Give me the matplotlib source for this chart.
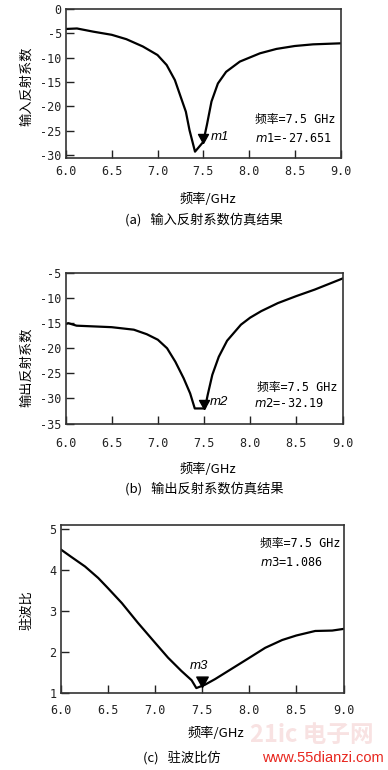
import matplotlib
matplotlib.use("Agg")
import matplotlib.pyplot as plt
from matplotlib.markers import MarkerStyle

plt.rcParams['font.family'] = ['Noto Sans CJK SC', 'DejaVu Sans']
plt.rcParams['axes.unicode_minus'] = False

# ---- data ----
freq_a = [6.0, 6.12, 6.30, 6.5, 6.66, 6.84, 7.0, 7.10, 7.19, 7.26, 7.31, 7.35, 7.41,
          7.5, 7.54, 7.59, 7.66, 7.75, 7.90, 8.12, 8.30, 8.5, 8.70, 9.0]
s11 = [-4.1, -4.0, -4.66, -5.3, -6.2, -7.7, -9.45, -11.5, -14.6, -18.4, -21.1, -24.9, -29.3,
       -27.3, -23.8, -19.0, -15.3, -12.9, -10.8, -9.1, -8.2, -7.6, -7.26, -7.05]

freq_b = [6.0, 6.03, 6.12, 6.5, 6.74, 6.88, 7.0, 7.10, 7.19, 7.28, 7.35, 7.40, 7.51,
          7.54, 7.59, 7.66, 7.75, 7.90, 8.0, 8.12, 8.30, 8.5, 8.70, 9.0]
s22 = [-15.2, -15.0, -15.5, -15.8, -16.3, -17.2, -18.3, -20.0, -22.7, -26.0, -29.0, -32.0, -32.0,
       -29.3, -25.3, -21.7, -18.5, -15.3, -13.9, -12.6, -11.0, -9.6, -8.3, -6.1]

freq_c = [6.0, 6.11, 6.26, 6.40, 6.5, 6.65, 6.82, 7.0, 7.14, 7.28, 7.39, 7.44, 7.53,
          7.64, 7.78, 7.99, 8.17, 8.35, 8.5, 8.70, 8.88, 9.0]
vswr = [4.5, 4.32, 4.08, 3.80, 3.56, 3.19, 2.71, 2.23, 1.86, 1.54, 1.31, 1.12, 1.20,
        1.34, 1.54, 1.84, 2.10, 2.29, 2.40, 2.51, 2.52, 2.56]

x_ticks = [6.0, 6.5, 7.0, 7.5, 8.0, 8.5, 9.0]
x_ticklabels = ["6.0", "6.5", "7.0", "7.5", "8.0", "8.5", "9.0"]
ya_ticks = [0, -5, -10, -15, -20, -25, -30]
yb_ticks = [-5, -10, -15, -20, -25, -30, -35]
yc_ticks = [1, 2, 3, 4, 5]

marker_freq = 7.5
m1_val = -27.651
m2_val = -32.19
m3_val = 1.086

W, H = 388, 770
fig = plt.figure(figsize=(W / 100, H / 100), dpi=100)

MIXED = ['DejaVu Sans Mono', 'Noto Sans CJK SC']

def px_axes(l, r, t, b):
    return fig.add_axes([l / W, 1 - b / H, (r - l) / W, (b - t) / H])

def ftext(x, y, s, **kw):
    fig.text(x / W, 1 - y / H, s, **kw)

tri = MarkerStyle([(0, 0), (-0.55, 1.0), (0.55, 1.0), (0, 0)])

def style(ax, yticks, ylim, xpad):
    ax.set_xlim(6.0, 9.0)
    ax.set_ylim(*ylim)
    ax.set_xticks(x_ticks)
    ax.set_xticklabels(x_ticklabels)
    ax.set_yticks(yticks)
    ax.set_yticklabels([str(v) for v in yticks])
    ax.tick_params(axis='both', direction='in', length=5.5, width=1.0, color='#222222')
    ax.tick_params(axis='x', pad=xpad)
    ax.tick_params(axis='y', pad=3)
    for lab in ax.get_xticklabels() + ax.get_yticklabels():
        lab.set_fontfamily('DejaVu Sans Mono')
        lab.set_fontsize(8.5)
        lab.set_color('#222222')
    for sp in ax.spines.values():
        sp.set_linewidth(1.2)
        sp.set_color('#333333')

# ---- (a) ----
ax1 = px_axes(66, 340.5, 9, 157.5)
ax1.plot(freq_a, s11, color='black', lw=1.6)
ax1.plot([marker_freq], [m1_val + 0.2], marker=tri, markersize=13, color='black', linestyle='none')
style(ax1, ya_ticks, (-30.5, 0), 5.5)
ax1.text(7.58, m1_val + 0.2, "m1", fontfamily='Liberation Sans', fontstyle='italic',
         fontsize=9.5, va='bottom', ha='left')
ftext(27, 86, "输入反射系数", rotation=90, ha='center', va='center', fontsize=9.5)
ftext(208, 199, "频率/GHz", ha='center', va='center', fontsize=9.5)
ftext(204, 220, "(a)   输入反射系数仿真结果", ha='center', va='center', fontsize=9.5)
ftext(255, 120, "频率=7.5 GHz", ha='left', va='center', fontsize=8.5, fontfamily=MIXED)
ftext(255, 138, r"$\mathit{m1}$=-27.651", ha='left', va='center', fontsize=8.5, fontfamily=MIXED)

# ---- (b) ----
ax2 = px_axes(65.5, 342.5, 273, 423.5)
ax2.plot(freq_b, s22, color='black', lw=1.6)
ax2.plot([marker_freq], [m2_val + 0.1], marker=tri, markersize=13, color='black', linestyle='none')
style(ax2, yb_ticks, (-35, -5), 10)
ax2.text(7.56, m2_val + 0.2, "m2", fontfamily='Liberation Sans', fontstyle='italic',
         fontsize=9.5, va='bottom', ha='left')
ftext(27, 367, "输出反射系数", rotation=90, ha='center', va='center', fontsize=9.5)
ftext(208, 469, "频率/GHz", ha='center', va='center', fontsize=9.5)
ftext(204, 489, "(b)   输出反射系数仿真结果", ha='center', va='center', fontsize=9.5)
ftext(257, 387, "频率=7.5 GHz", ha='left', va='center', fontsize=8.5, fontfamily=MIXED)
ftext(254, 404, r"$\mathit{m2}$=-32.19", ha='left', va='center', fontsize=8.5, fontfamily=MIXED)

# ---- (c) ----
ax3 = px_axes(60.5, 343.5, 525, 693)
ax3.plot(freq_c, vswr, color='black', lw=1.6)
ax3.plot([marker_freq], [m3_val + 0.07], marker=tri, markersize=15, color='black', linestyle='none')
style(ax3, yc_ticks, (1, 5.09), 8)
ax3.text(marker_freq - 0.03, 1.5, "m3", fontfamily='Liberation Sans', fontstyle='italic',
         fontsize=9.5, va='bottom', ha='center')
ftext(27, 610, "驻波比", rotation=90, ha='center', va='center', fontsize=9.5)
ftext(216, 733, "频率/GHz", ha='center', va='center', fontsize=9.5)

# watermark logo (faint)
ftext(312, 735, "21ic 电子网", ha='center', va='center', fontsize=17, fontweight='bold',
      color='#f8e2e2')
ftext(182, 758, "(c)   驻波比仿", ha='center', va='center', fontsize=9.5)
ftext(260, 544, "频率=7.5 GHz", ha='left', va='center', fontsize=8.5, fontfamily=MIXED)
ftext(260, 562, r"$\mathit{m3}$=1.086", ha='left', va='center', fontsize=8.5, fontfamily=MIXED)
ftext(384, 758, "www.55dianzi.com", ha='right', va='center', fontsize=10.5,
      fontfamily='Liberation Sans', color='#e8261e')

fig.savefig("out.png", dpi=100)
